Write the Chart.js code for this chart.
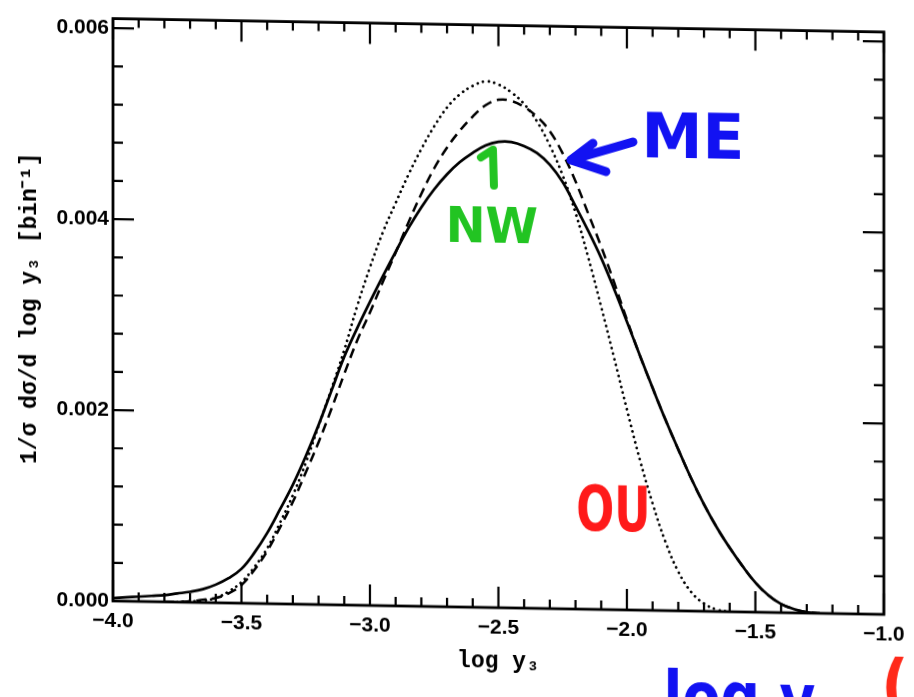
<!DOCTYPE html>
<html>
<head>
<meta charset="utf-8">
<script src="https://cdn.jsdelivr.net/npm/chart.js@4.4.0/dist/chart.umd.min.js"></script>
<style>
  html, body { margin: 0; padding: 0; background: #fff; overflow: hidden; }
  /* the scanned figure is slightly sheared, so the canvas is too */
  #chart { display: block; transform: skewY(1deg); transform-origin: 0 0; }
</style>
</head>
<body>
<canvas id="chart" width="914" height="697"></canvas>
<script>
// log y3 grid the curves were read on
const logY3 = [
  -4.00, -3.95, -3.90, -3.85, -3.80, -3.75, -3.70, -3.65, -3.60, -3.55,
  -3.50, -3.45, -3.40, -3.35, -3.30, -3.25, -3.20, -3.15, -3.10, -3.05,
  -3.00, -2.95, -2.90, -2.85, -2.80, -2.75, -2.70, -2.65, -2.60, -2.55,
  -2.50, -2.45, -2.40, -2.35, -2.30, -2.25, -2.20, -2.15, -2.10, -2.05,
  -2.00, -1.95, -1.90, -1.85, -1.80, -1.75, -1.70, -1.65, -1.60, -1.55,
  -1.50, -1.45, -1.40, -1.35, -1.30, -1.25
];

// solid curve
const solidCurve = [
  0.00003, 0.00004, 0.00005, 0.00006, 0.00007, 0.00009, 0.00011, 0.00014, 0.00019, 0.00026,
  0.00036, 0.00053, 0.00074, 0.00099, 0.00125, 0.00155, 0.00188, 0.00224, 0.00260, 0.00290,
  0.00318, 0.00345, 0.00371, 0.00396, 0.00418, 0.00437, 0.00453, 0.00466, 0.00476, 0.00484,
  0.00488, 0.00488, 0.00484, 0.00477, 0.00465, 0.00447, 0.00422, 0.00396, 0.00368, 0.00336,
  0.00302, 0.00267, 0.00233, 0.00200, 0.00169, 0.00139, 0.00112, 0.00088, 0.00067, 0.00048,
  0.00031, 0.00018, 0.00009, 0.00004, 0.00001, 0.00000
];

// dashed curve (joins the solid one below log y3 = -2)
const dashedCurve = [
  null, null, null, null, 0.00000, 0.00000, 0.00001, 0.00003, 0.00005, 0.00010,
  0.00019, 0.00035, 0.00055, 0.00080, 0.00107, 0.00138, 0.00170, 0.00205, 0.00242, 0.00277,
  0.00307, 0.00339, 0.00370, 0.00402, 0.00432, 0.00459, 0.00481, 0.00499, 0.00514, 0.00526,
  0.00532, 0.00531, 0.00525, 0.00515, 0.00500, 0.00477, 0.00448, 0.00414, 0.00380, 0.00343,
  0.00304, 0.00267, 0.00233, 0.00200, 0.00169, 0.00139, 0.00112, 0.00088, 0.00067, 0.00048,
  0.00031, 0.00018, 0.00009, 0.00004, 0.00001, 0.00000
];

// dotted curve
const dottedCurve = [
  null, null, null, null, null, 0.00000, 0.00001, 0.00002, 0.00005, 0.00012,
  0.00022, 0.00038, 0.00058, 0.00085, 0.00114, 0.00148, 0.00187, 0.00226, 0.00267, 0.00313,
  0.00354, 0.00391, 0.00422, 0.00452, 0.00479, 0.00503, 0.00523, 0.00537, 0.00546, 0.00551,
  0.00548, 0.00540, 0.00528, 0.00510, 0.00485, 0.00454, 0.00415, 0.00368, 0.00317, 0.00264,
  0.00210, 0.00158, 0.00112, 0.00072, 0.00041, 0.00020, 0.00008, 0.00002, 0.00000, null,
  null, null, null, null, null, null
];

const xTickLabels = [-4.0, -3.5, -3.0, -2.5, -2.0, -1.5, -1.0];
const yTickLabels = [0, 0.002, 0.004, 0.006];

const toPoints = vals => logY3.map((x, i) => ({ x: x, y: vals[i] }));

// inward ticks on all four sides + the frame
const frameTicks = {
  id: 'frameTicks',
  afterDatasetsDraw(chart) {
    const { ctx, chartArea: a, scales: { x, y } } = chart;
    ctx.save();
    ctx.strokeStyle = '#000';
    ctx.lineWidth = 2.2;
    ctx.beginPath();
    for (let k = 0; k <= 30; k++) {
      const px = x.getPixelForValue(-4 + k * 0.1);
      const len = k % 5 === 0 ? 21 : 9;
      ctx.moveTo(px, a.bottom); ctx.lineTo(px, a.bottom - len);
      ctx.moveTo(px, a.top); ctx.lineTo(px, a.top + len);
    }
    for (let k = 0; k <= 15; k++) {
      const py = y.getPixelForValue(k * 0.0004);
      const len = k % 5 === 0 ? 21 : 10;
      ctx.moveTo(a.left, py); ctx.lineTo(a.left + len, py);
      ctx.moveTo(a.right, py); ctx.lineTo(a.right - len, py);
    }
    ctx.stroke();
    ctx.lineWidth = 2.8;
    ctx.strokeRect(a.left, a.top, a.right - a.left, a.bottom - a.top);
    ctx.restore();
  }
};

// squeeze a word into a box (handwritten notes on the scan)
function fitWord(ctx, text, left, top, w, h, color) {
  ctx.save();
  ctx.font = 'bold 100px "DejaVu Sans"';
  ctx.textBaseline = 'alphabetic';
  const m = ctx.measureText(text);
  const tw = m.actualBoundingBoxLeft + m.actualBoundingBoxRight;
  const th = m.actualBoundingBoxAscent + m.actualBoundingBoxDescent;
  const sx = w / tw, sy = h / th;
  ctx.translate(left + m.actualBoundingBoxLeft * sx, top + m.actualBoundingBoxAscent * sy);
  ctx.scale(sx, sy);
  ctx.fillStyle = color;
  ctx.fillText(text, 0, 0);
  ctx.restore();
}

const notes = {
  id: 'notes',
  afterDraw(chart) {
    const ctx = chart.ctx;
    ctx.save();
    ctx.lineCap = 'round';
    ctx.lineJoin = 'round';

    // blue arrow + ME
    ctx.strokeStyle = '#1212f2';
    ctx.lineWidth = 9;
    ctx.beginPath();
    ctx.moveTo(633, 131); ctx.lineTo(571, 150);
    ctx.moveTo(593, 133); ctx.lineTo(571, 150); ctx.lineTo(606, 161);
    ctx.stroke();
    fitWord(ctx, 'ME', 647, 101, 93, 45, '#1212f2');

    // green arrow + NW
    ctx.strokeStyle = '#22c422';
    ctx.lineWidth = 8;
    ctx.beginPath();
    ctx.moveTo(494, 177); ctx.lineTo(493, 141); ctx.lineTo(481, 149);
    ctx.stroke();
    fitWord(ctx, 'NW', 450, 198, 87, 36, '#22c422');

    // red OU
    fitWord(ctx, 'OU', 578, 474, 69, 47, '#ff1a1a');

    // notes cut off at the bottom edge
    fitWord(ctx, 'log y', 668, 656, 147, 68, '#1212f2');
    fitWord(ctx, '(', 886, 642, 18, 62, '#ff2a1a');
    ctx.restore();
  }
};

const tickFont = { family: '"Liberation Sans"', weight: 'bold', size: 21 };
const titleFont = { family: '"Liberation Mono"', weight: 'bold', size: 23 };

new Chart(document.getElementById('chart'), {
  type: 'line',
  data: {
    datasets: [
      {
        label: 'solid', data: toPoints(solidCurve),
        borderColor: '#000', borderWidth: 2.7, pointRadius: 0, tension: 0.4
      },
      {
        label: 'dashed', data: toPoints(dashedCurve),
        borderColor: '#000', borderWidth: 2.5, borderDash: [10, 6], pointRadius: 0, tension: 0.4
      },
      {
        label: 'dotted', data: toPoints(dottedCurve),
        borderColor: '#000', borderWidth: 2.7, borderDash: [0.1, 5.6], borderCapStyle: 'round',
        pointRadius: 0, tension: 0.4
      }
    ]
  },
  options: {
    responsive: false,
    animation: false,
    devicePixelRatio: 1,
    layout: { padding: { top: 13, right: 30, left: 0, bottom: 0 } },
    plugins: { legend: { display: false }, tooltip: { enabled: false } },
    scales: {
      x: {
        type: 'linear', min: -4, max: -1,
        grid: { display: false, drawTicks: false },
        border: { display: false },
        afterBuildTicks: s => { s.ticks = xTickLabels.map(v => ({ value: v })); },
        afterFit: s => { s.height = 98; },
        ticks: {
          padding: 8, color: '#000', font: tickFont, maxRotation: 0, autoSkip: false,
          callback: v => v.toFixed(1).replace('-', '\u2212')
        },
        title: {
          display: true, text: 'log y\u2083', color: '#000', font: titleFont,
          padding: { top: 0, bottom: 30 }
        }
      },
      y: {
        min: 0, max: 0.0061,
        grid: { display: false, drawTicks: false },
        border: { display: false },
        afterBuildTicks: s => { s.ticks = yTickLabels.map(v => ({ value: v })); },
        afterFit: s => { s.width = 113; },
        ticks: {
          padding: 4, color: '#000', font: tickFont,
          callback: v => v.toFixed(3)
        },
        title: {
          display: true, text: '1/\u03c3 d\u03c3/d log y\u2083 [bin\u207b\u00b9]', color: '#000', font: titleFont,
          padding: { top: 16, bottom: 0 }
        }
      }
    }
  },
  plugins: [frameTicks, notes]
});
</script>
</body>
</html>
